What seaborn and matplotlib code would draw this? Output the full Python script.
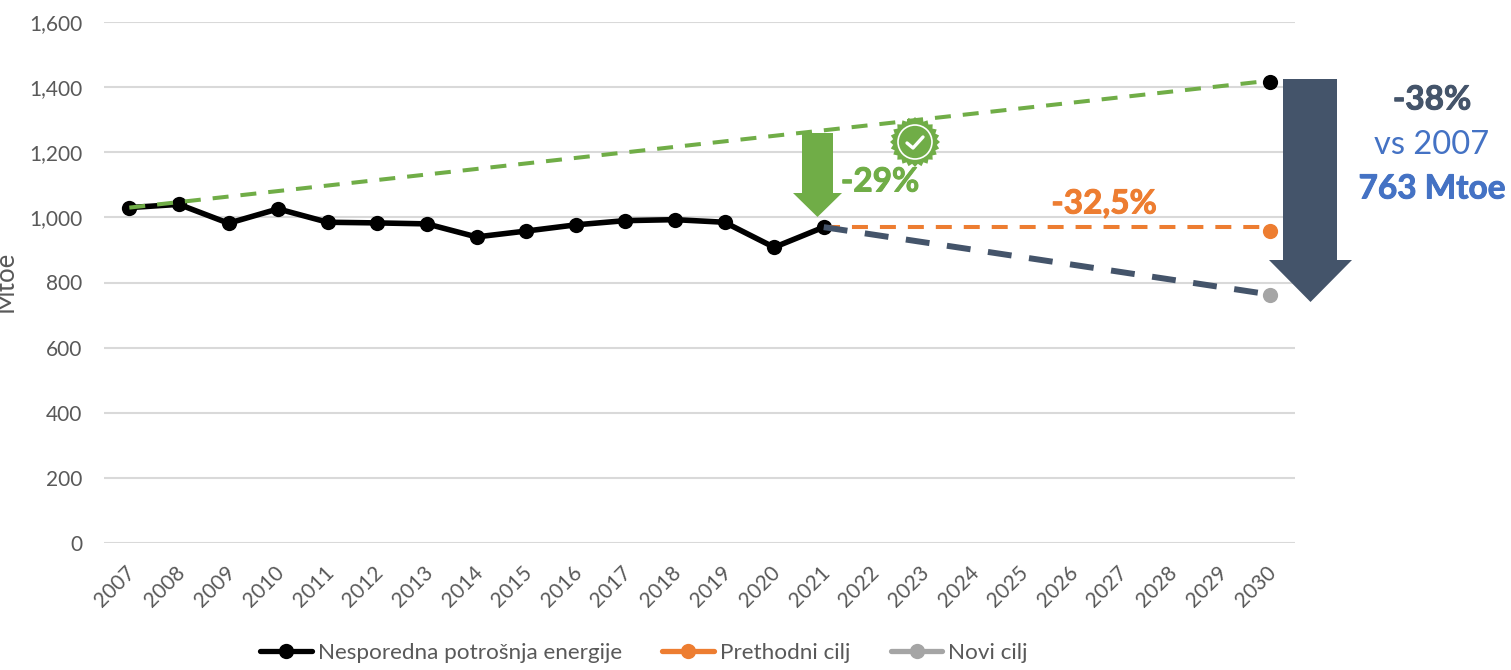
import matplotlib

matplotlib.use("Agg")
import matplotlib.patheffects as pe
import matplotlib.pyplot as plt
import numpy as np
import pandas as pd
import seaborn as sns
from matplotlib.lines import Line2D
from matplotlib.patches import Circle, Polygon
from matplotlib.transforms import ScaledTranslation

W, H = 1511, 670

years = list(range(2007, 2031))
hist_years = list(range(2007, 2022))
hist_values = [1030, 1040, 982, 1026, 985, 983, 980, 940, 958, 977, 990, 993, 985, 908, 970]
trend_years = [2007, 2030]
trend_values = [1030, 1420]
old_target_years = [2021, 2030]
old_target_values = [970, 970]
new_target_years = [2021, 2030]
new_target_values = [970, 763]
end_black = 1415
end_old = 957
end_new = 763
y_ticks = [0, 200, 400, 600, 800, 1000, 1200, 1400, 1600]

BLACK = "#000000"
GREEN = "#70AD47"
ORANGE = "#ED7D31"
GREY = "#A5A5A5"
NAVY = "#44546A"
BLUE = "#4472C4"
TEXT = "#595959"


def fx(px):
    return px / W


def fy(py):
    return 1 - py / H


def draw_line(ax, xs, ys, color, lw, dashes=None, marker=None, ms=0, zorder=3):
    df = pd.DataFrame({"year": xs, "value": ys})
    sns.lineplot(
        data=df, x="year", y="value", ax=ax, color=color, linewidth=lw,
        marker=marker, markersize=ms, markeredgewidth=0, zorder=zorder,
        errorbar=None, sort=False,
    )
    if dashes:
        ax.lines[-1].set_linestyle((0, dashes))
    ax.lines[-1].set_clip_on(False)


def block_arrow(fig, left, right, head_left, head_right, top, neck, tip, color):
    mid = (head_left + head_right) / 2
    pts = [(left, top), (right, top), (right, neck), (head_right, neck),
           (mid, tip), (head_left, neck), (left, neck)]
    fig.add_artist(Polygon([(fx(x), fy(y)) for x, y in pts], closed=True, color=color,
                           lw=0, transform=fig.transFigure, zorder=6))


def badge(fig, cx, cy):
    angles = np.linspace(0, 2 * np.pi, 49)[:-1]
    radii = np.where(np.arange(48) % 2 == 0, 25, 22)
    pts = [(fx(cx + r * np.cos(a)), fy(cy + r * np.sin(a))) for r, a in zip(radii, angles)]
    fig.add_artist(Polygon(pts, closed=True, color=GREEN, lw=0, transform=fig.transFigure, zorder=6))
    fig.add_artist(Circle((cx, H - cy), 17, fill=False, ec="white", lw=1.2, transform=None, zorder=7))
    check = [(cx - 8, cy + 1), (cx - 2, cy + 6), (cx + 8, cy - 5)]
    fig.add_artist(Line2D([fx(p[0]) for p in check], [fy(p[1]) for p in check], color="white",
                          lw=2.4, transform=fig.transFigure, zorder=7))


sns.set_theme(style="white")
plt.rcParams["font.family"] = ["Lato", "DejaVu Sans"]

fig = plt.figure(figsize=(W / 100, H / 100), dpi=100)
ax = fig.add_axes([fx(104.5), fy(543), fx(1295 - 104.5), fy(22) - fy(543)])

draw_line(ax, hist_years, hist_values, BLACK, 4, marker="o", ms=11, zorder=3)
draw_line(ax, trend_years, trend_values, GREEN, 2.9, dashes=(3.97, 2.97), zorder=4)
draw_line(ax, old_target_years, old_target_values, ORANGE, 2.9, dashes=(3.97, 2.97), zorder=4)
draw_line(ax, new_target_years, new_target_values, NAVY, 4.3, dashes=(4.0, 2.95), zorder=5)
for value, color in [(end_black, BLACK), (end_old, ORANGE), (end_new, GREY)]:
    sns.scatterplot(x=[2030], y=[value], ax=ax, color=color, s=120, linewidth=0, zorder=6, clip_on=False)

ax.set_xlim(2006.5, 2030.5)
ax.set_ylim(0, 1600)
ax.set_xticks(years)
ax.set_yticks(y_ticks)
ax.set_yticklabels([f"{v:,}" for v in y_ticks], fontsize=15, color=TEXT)
ax.set_xticklabels(years, fontsize=15, color=TEXT, rotation=45, ha="right", rotation_mode="anchor")
ax.tick_params(axis="y", length=0, pad=16)
ax.tick_params(axis="x", length=0, pad=14)
for label in ax.get_xticklabels():
    label.set_transform(label.get_transform() + ScaledTranslation(-4 / 100, 0, fig.dpi_scale_trans))
ax.set_xlabel("")
ax.set_ylabel("")
ax.grid(axis="y", color="#D9D9D9", lw=1.5)
ax.set_axisbelow(True)
sns.despine(ax=ax, left=True, bottom=True)

fig.text(fx(18), fy(281.5), "Mtoe", rotation=90, fontsize=18.5, color=TEXT, ha="right", va="center")

block_arrow(fig, 802, 833, 793, 842, 133, 193, 217, GREEN)
block_arrow(fig, 1283, 1337, 1269, 1352, 79, 260, 302, NAVY)
badge(fig, 915, 142)

notes = [
    (880, 182, "-29%", GREEN, "bold", 24),
    (1104, 204, "-32,5%", ORANGE, "bold", 24),
    (1432, 100, "-38%", NAVY, "bold", 24),
    (1432, 145, "vs 2007", BLUE, "normal", 23.5),
    (1432, 189, "763 Mtoe", BLUE, "bold", 24),
]
for px, py, label, color, weight, size in notes:
    t = fig.text(fx(px), fy(py), label, color=color, fontweight=weight, fontsize=size,
                 ha="center", va="center", zorder=8)
    if weight == "bold":
        t.set_path_effects([pe.withStroke(linewidth=0.7, foreground=color)])

handles = [
    Line2D([], [], color=BLACK, lw=3.8, marker="o", ms=11, mew=0, solid_capstyle="round"),
    Line2D([], [], color=ORANGE, lw=3.8, marker="o", ms=11, mew=0, solid_capstyle="round"),
    Line2D([], [], color=GREY, lw=3.8, marker="o", ms=11, mew=0, solid_capstyle="round"),
]
fig.legend(handles, ["Nesporedna potrošnja energije", "Prethodni cilj", "Novi cilj"],
           loc="center", bbox_to_anchor=(fx(644), fy(653)), ncol=3, frameon=False,
           fontsize=16.2, labelcolor=TEXT, handlelength=2.3, handletextpad=0.25, columnspacing=1.8)

fig.savefig("out.png", dpi=100)
